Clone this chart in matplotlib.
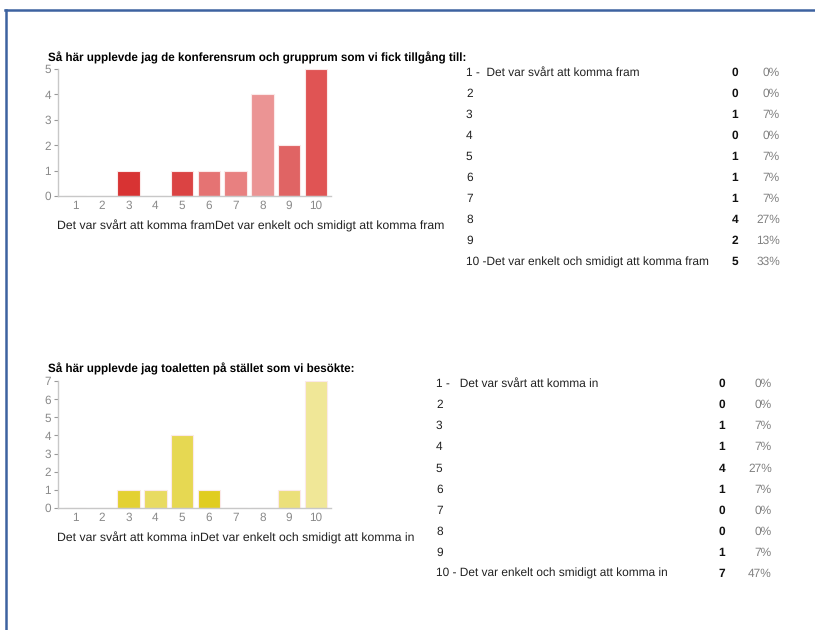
import matplotlib
matplotlib.use('Agg')
from matplotlib import pyplot as plt
from matplotlib.lines import Line2D

plt.rcParams['font.family'] = ['Liberation Sans', 'DejaVu Sans']
plt.rcParams['text.hinting'] = 'no_hinting'

W, H = 815, 630

# --- data ---
scale = [1, 2, 3, 4, 5, 6, 7, 8, 9, 10]

q1_title = 'Så här upplevde jag de konferensrum och grupprum som vi fick tillgång till:'
q1_sub = 'Det var svårt att komma framDet var enkelt och smidigt att komma fram'
q1_counts = [0, 0, 1, 0, 1, 1, 1, 4, 2, 5]
q1_pct = ['0%', '0%', '7%', '0%', '7%', '7%', '7%', '27%', '13%', '33%']
q1_labels = ['1 -  Det var svårt att komma fram', '2', '3', '4', '5', '6', '7', '8', '9',
             '10 -Det var enkelt och smidigt att komma fram']
q1_colors = ['#d83333', '#d83333', '#d83333', '#db4343', '#db4343', '#e57373',
             '#e88080', '#eb9494', '#e06464', '#e05454']

q2_title = 'Så här upplevde jag toaletten på stället som vi besökte:'
q2_sub = 'Det var svårt att komma inDet var enkelt och smidigt att komma in'
q2_counts = [0, 0, 1, 1, 4, 1, 0, 0, 1, 7]
q2_pct = ['0%', '0%', '7%', '7%', '27%', '7%', '0%', '0%', '7%', '47%']
q2_labels = ['1 -   Det var svårt att komma in', '2', '3', '4', '5', '6', '7', '8', '9',
             '10 - Det var enkelt och smidigt att komma in']
q2_colors = ['#e3d132', '#e3d132', '#e3d132', '#e8db62', '#e6d852', '#e0cd20',
             '#e8db62', '#e8db62', '#ebe07a', '#f0e797']


def fx(px):
    return px / W


def fy(py):
    return 1 - py / H


fig = plt.figure(figsize=(W / 100, H / 100), dpi=100)
fig.patch.set_facecolor('white')

# frame lines (top and left)
fig.add_artist(Line2D([fx(5), fx(815)], [fy(10), fy(10)], color='#3d62a0', lw=1.8))
fig.add_artist(Line2D([fx(6), fx(6)], [fy(10), fy(630)], color='#3d62a0', lw=1.8))


def bar_chart(top, bottom, counts, colors, ymax):
    left, right = 58, 331
    ax = fig.add_axes([fx(left), fy(bottom), fx(right) - fx(left), fy(top) - fy(bottom)])
    ax.bar(scale, counts, width=0.84, color=colors, edgecolor='#fbe9e9', linewidth=0.8)
    ax.set_xlim(0.37, 10.56)
    ax.set_ylim(0, ymax)
    ax.set_xticks(scale)
    ax.set_yticks(range(ymax + 1))
    for s in ['top', 'right']:
        ax.spines[s].set_visible(False)
    for s in ['left', 'bottom']:
        ax.spines[s].set_color('#c8c8c8')
        ax.spines[s].set_linewidth(1.0)
    ax.tick_params(axis='y', colors='#999999', labelcolor='#8a8a8a', labelsize=8.5,
                   length=3, pad=2)
    ax.tick_params(axis='x', length=0, labelcolor='#8a8a8a', labelsize=8.5, pad=3)
    ax.set_facecolor('none')
    return ax


bar_chart(69, 196, q1_counts, q1_colors, 5)
bar_chart(381, 508, q2_counts, q2_colors, 7)

# titles and subtitles
fig.text(fx(48), fy(58), q1_title, fontsize=8.4, fontweight='bold', va='center', ha='left')
fig.text(fx(57), fy(226), q1_sub, fontsize=8.8, va='center', ha='left', color='#222222')
fig.text(fx(48), fy(369), q2_title, fontsize=8.4, fontweight='bold', va='center', ha='left')
fig.text(fx(57), fy(538), q2_sub, fontsize=8.8, va='center', ha='left', color='#222222')


def table(y0, step, x_lab, x_cnt, x_pct, labels, counts, pct, size):
    for i in range(len(labels)):
        y = fy(y0 + i * step)
        fig.text(fx(x_lab), y, labels[i], fontsize=size, va='center', ha='left', color='#222222')
        fig.text(fx(x_cnt), y, str(counts[i]), fontsize=size, fontweight='bold',
                 va='center', ha='center', color='#111111')
        fig.text(fx(x_pct), y, pct[i], fontsize=size, va='center', ha='right', color='#808080')


table(73, 21, 466, 735, 780, q1_labels, q1_counts, q1_pct, 8.6)
table(384, 21.1, 436, 722, 772, q2_labels, q2_counts, q2_pct, 8.6)

plt.savefig('out.png', dpi=100)
